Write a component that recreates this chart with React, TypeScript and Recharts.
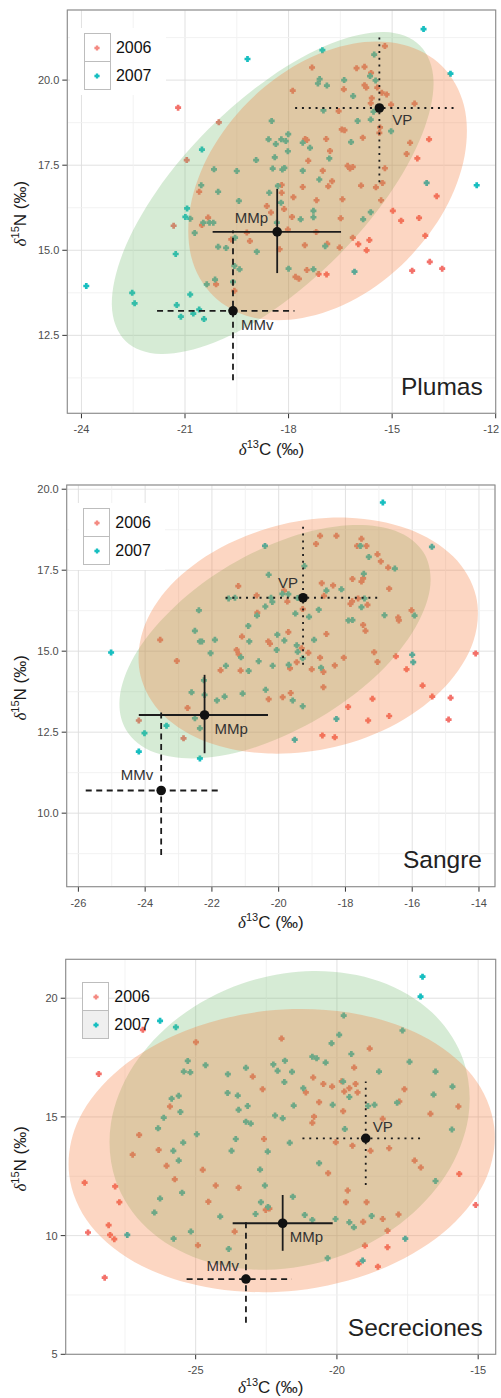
import React from "react";
import {
  ScatterChart,
  Scatter,
  XAxis,
  YAxis,
  CartesianGrid,
  ReferenceLine,
  ReferenceDot,
  ReferenceArea,
  Legend,
} from "recharts";

type Pt = [number, number];
type Stat = { name: string; x: number; y: number; xLo: number; xHi: number; yLo: number; yHi: number };

// ---------- Plumas ----------
const plumas2006: Pt[] = [
  [-21.2, 19.19], [-20.02, 18.76], [-20.95, 17.65], [-20.59, 16.72], [-20.33, 15.96], [-20.51, 15.74],
  [-21.33, 15.72], [-19.21, 15.52], [-19.12, 15.27], [-19.66, 15.32], [-19.57, 13.81], [-20.1, 14.0],
  [-18.63, 16.3], [-18.51, 16.11], [-18.2, 16.92], [-18.2, 16.69], [-18.13, 16.21], [-18.26, 15.03],
  [-18.02, 15.61], [-17.9, 15.98], [-17.86, 16.56], [-17.88, 19.69], [-17.32, 20.37], [-17.52, 18.27],
  [-17.47, 18.24], [-17.43, 17.63], [-17.59, 16.86], [-17.19, 16.47], [-17.01, 17.34], [-16.91, 18.27],
  [-16.8, 17.92], [-16.85, 16.88], [-16.74, 17.03], [-16.55, 19.09], [-16.46, 18.55], [-16.38, 18.53],
  [-16.4, 19.73], [-16.29, 17.48], [-16.22, 17.4], [-16.14, 17.45], [-16.44, 16.5], [-16.49, 15.94],
  [-15.9, 16.9], [-16.03, 20.35], [-15.8, 20.39], [-15.8, 19.85], [-15.75, 19.78], [-15.85, 18.31],
  [-15.61, 20.21], [-15.59, 19.47], [-15.21, 21.0], [-15.43, 19.78], [-15.3, 19.63], [-15.16, 19.58],
  [-15.03, 19.28], [-15.35, 18.61], [-15.37, 18.45], [-15.21, 17.41], [-15.28, 16.98], [-15.47, 16.85],
  [-15.32, 16.47], [-14.35, 19.31], [-14.48, 18.16], [-14.58, 17.83], [-14.27, 17.7], [-13.93, 18.26],
  [-14.98, 16.16], [-14.74, 15.87], [-14.22, 15.95], [-14.04, 15.43], [-13.71, 16.59], [-13.91, 14.66],
  [-13.55, 14.46], [-14.42, 14.4], [-16.14, 15.37], [-15.98, 15.18], [-15.74, 15.0], [-15.66, 15.3],
  [-16.52, 15.08], [-16.9, 14.29], [-17.13, 14.3], [-17.53, 15.15], [-17.47, 14.42], [-17.8, 14.22],
  [-17.7, 14.16], [-17.2, 15.54], [-16.88, 15.19], [-15.62, 19.32],
];
const plumas2007: Pt[] = [
  [-19.19, 20.62], [-23.86, 13.95], [-22.53, 13.75], [-22.46, 13.44], [-21.24, 13.39], [-21.12, 13.05],
  [-20.76, 13.14], [-20.59, 13.26], [-20.45, 12.98], [-20.85, 13.7], [-20.37, 14.0], [-21.27, 14.89],
  [-20.94, 16.23], [-20.99, 15.98], [-20.85, 15.93], [-20.51, 17.96], [-20.16, 17.38], [-20.04, 16.72],
  [-20.53, 16.91], [-20.72, 15.51], [-20.47, 15.81], [-20.29, 15.81], [-20.18, 15.81], [-20.04, 15.1],
  [-19.81, 15.07], [-20.13, 14.14], [-19.61, 14.07], [-19.57, 14.54], [-19.42, 14.44], [-19.55, 15.37],
  [-19.44, 16.45], [-19.5, 17.33], [-18.94, 17.65], [-18.92, 14.96], [-18.58, 18.26], [-18.49, 18.8],
  [-18.37, 18.12], [-18.4, 17.73], [-18.46, 17.4], [-18.21, 18.26], [-18.08, 18.21], [-18.01, 18.41],
  [-18.02, 17.91], [-18.18, 17.37], [-18.12, 17.42], [-18.31, 16.89], [-18.56, 16.69], [-18.22, 16.4],
  [-18.34, 15.81], [-18.0, 14.46], [-17.65, 15.91], [-17.59, 17.34], [-17.59, 18.16], [-17.38, 18.01],
  [-17.28, 16.16], [-17.28, 15.97], [-17.28, 14.44], [-16.94, 15.12], [-17.11, 17.08], [-16.82, 17.7],
  [-17.02, 20.88], [-17.1, 20.03], [-17.15, 19.9], [-16.89, 19.84], [-16.99, 19.11], [-16.39, 20.0],
  [-16.13, 19.53], [-16.0, 18.8], [-16.19, 18.18], [-15.84, 15.91], [-16.09, 14.37], [-15.62, 16.12],
  [-15.52, 20.75], [-15.64, 20.12], [-15.48, 19.99], [-15.62, 18.84], [-15.54, 19.07], [-15.03, 18.5],
  [-14.0, 16.98], [-13.31, 20.19], [-14.09, 21.5], [-12.55, 16.91],
];
const plumasEllipse2006: Pt[] = [
  [-13.55, 20.41], [-12.92, 19.26], [-12.9, 17.78], [-13.48, 16.18], [-14.58, 14.71], [-16.03, 13.59],
  [-17.6, 13.01], [-19.06, 13.03], [-20.19, 13.67], [-20.82, 14.81], [-20.84, 16.3], [-20.26, 17.9],
  [-19.17, 19.36], [-17.72, 20.48], [-16.14, 21.07], [-14.68, 21.04],
];
const plumasEllipse2007: Pt[] = [
  [-14.19, 21.01], [-13.8, 19.96], [-14.13, 18.41], [-15.11, 16.6], [-16.6, 14.8], [-18.38, 13.28],
  [-20.17, 12.28], [-21.7, 11.95], [-22.73, 12.34], [-23.12, 13.39], [-22.79, 14.95], [-21.81, 16.76],
  [-20.32, 18.56], [-18.54, 20.08], [-16.75, 21.08], [-15.22, 21.41],
];
const plumasStats: Stat[] = [
  { name: "VP", x: -15.37, y: 19.18, xLo: -17.81, xHi: -13.14, yLo: 17.0, yHi: 21.37 },
  { name: "MMp", x: -18.33, y: 15.54, xLo: -20.2, xHi: -16.48, yLo: 14.33, yHi: 16.8 },
  { name: "MMv", x: -19.61, y: 13.22, xLo: -21.81, xHi: -17.83, yLo: 11.18, yHi: 15.58 },
];
const plumasXTicks = [-24, -21, -18, -15, -12];
const plumasXMinor = [-22.5, -19.5, -16.5, -13.5];
const plumasYTicks = [12.5, 15, 17.5, 20];
const plumasYMinor = [11.25, 13.75, 16.25, 18.75, 21.25];

// ---------- Sangre ----------
const sangre2006: Pt[] = [
  [-23.55, 15.35], [-23.05, 14.7], [-24.19, 12.86], [-22.85, 12.31], [-22.73, 13.25], [-21.74, 14.41],
  [-21.21, 17.01], [-21.26, 15.04], [-21.2, 14.91], [-21.14, 14.4], [-21.1, 15.45], [-20.66, 16.72],
  [-20.64, 16.19], [-20.31, 15.3], [-20.26, 15.23], [-20.3, 13.52], [-19.88, 13.58], [-19.84, 16.87],
  [-19.74, 16.53], [-19.71, 15.59], [-19.64, 13.71], [-19.66, 14.47], [-19.46, 14.66], [-19.31, 15.09],
  [-19.28, 16.3], [-19.11, 14.95], [-19.01, 14.44], [-18.88, 18.31], [-18.76, 18.56], [-18.71, 17.1],
  [-18.57, 15.53], [-18.76, 14.8], [-18.66, 14.36], [-18.66, 13.89], [-18.64, 16.71], [-18.69, 12.4],
  [-18.37, 17.03], [-18.27, 18.56], [-18.32, 12.34], [-18.32, 14.56], [-18.05, 14.8], [-17.92, 13.28],
  [-17.85, 16.46], [-17.8, 16.54], [-17.79, 17.23], [-17.65, 18.25], [-17.62, 16.63], [-17.52, 18.47],
  [-17.52, 17.15], [-17.47, 17.25], [-17.47, 15.81], [-17.4, 15.63], [-17.37, 18.25], [-17.34, 16.43],
  [-17.32, 12.86], [-17.19, 13.53], [-17.14, 14.97], [-17.04, 14.67], [-17.04, 17.99], [-16.94, 17.77],
  [-16.72, 17.58], [-16.69, 16.93], [-16.69, 13.0], [-16.49, 14.84], [-16.42, 16.04], [-16.4, 15.95],
  [-16.17, 14.44], [-16.02, 16.26], [-15.69, 13.94], [-15.4, 13.6], [-14.91, 12.89], [-14.85, 13.56],
  [-14.1, 14.93],
];
const sangre2007: Pt[] = [
  [-25.02, 14.96], [-24.19, 11.9], [-24.02, 12.47], [-23.36, 12.7], [-22.61, 13.73], [-22.51, 15.63],
  [-22.39, 16.26], [-22.36, 15.3], [-22.3, 15.3], [-22.51, 12.93], [-22.36, 12.62], [-22.36, 11.69],
  [-22.24, 14.1], [-22.22, 13.65], [-22.04, 14.94], [-21.91, 15.35], [-21.85, 13.48], [-21.62, 13.6],
  [-21.58, 14.55], [-21.5, 16.63], [-21.31, 16.65], [-21.13, 14.81], [-21.08, 13.69], [-20.91, 15.78],
  [-20.88, 15.3], [-20.9, 14.39], [-20.6, 14.69], [-20.65, 16.1], [-20.4, 16.38], [-20.41, 18.25],
  [-20.3, 17.36], [-20.39, 13.81], [-20.23, 16.65], [-20.19, 16.52], [-20.18, 14.55], [-20.04, 15.51],
  [-20.06, 15.04], [-19.83, 15.33], [-19.89, 16.77], [-19.71, 16.76], [-19.7, 14.58], [-19.58, 13.48],
  [-19.52, 12.27], [-19.5, 16.16], [-19.46, 15.18], [-19.43, 14.98], [-19.43, 16.64], [-19.28, 13.3],
  [-19.28, 14.78], [-19.23, 17.63], [-19.09, 16.06], [-18.94, 15.35], [-18.8, 16.28], [-18.73, 14.49],
  [-18.57, 16.87], [-18.27, 12.91], [-18.12, 16.91], [-17.91, 15.95], [-17.79, 15.96], [-17.55, 18.25],
  [-17.45, 17.39], [-17.43, 16.63], [-17.52, 16.36], [-17.3, 17.91], [-16.88, 19.59], [-16.83, 16.11],
  [-16.52, 17.55], [-16.0, 14.89], [-15.97, 14.66], [-15.93, 16.1], [-15.41, 18.22],
];
const sangreEllipse2006: Pt[] = [
  [-14.09, 16.7], [-14.17, 15.3], [-15.0, 13.92], [-16.46, 12.77], [-18.33, 12.04], [-20.31, 11.84],
  [-22.11, 12.18], [-23.46, 13.03], [-24.14, 14.25], [-24.06, 15.66], [-23.23, 17.04], [-21.77, 18.18],
  [-19.9, 18.91], [-17.92, 19.12], [-16.12, 18.77], [-14.77, 17.92],
];
const sangreEllipse2007: Pt[] = [
  [-15.65, 18.03], [-15.47, 16.92], [-16.0, 15.57], [-17.15, 14.17], [-18.76, 12.95], [-20.57, 12.08],
  [-22.31, 11.7], [-23.71, 11.87], [-24.57, 12.57], [-24.75, 13.67], [-24.22, 15.03], [-23.07, 16.42],
  [-21.47, 17.65], [-19.66, 18.52], [-17.92, 18.89], [-16.51, 18.72],
];
const sangreStats: Stat[] = [
  { name: "VP", x: -19.27, y: 16.65, xLo: -21.59, xHi: -17.01, yLo: 14.58, yHi: 18.9 },
  { name: "MMp", x: -22.22, y: 13.03, xLo: -24.19, xHi: -20.32, yLo: 11.85, yHi: 14.27 },
  { name: "MMv", x: -23.52, y: 10.7, xLo: -25.78, xHi: -21.71, yLo: 8.71, yHi: 13.19 },
];
const sangreXTicks = [-26, -24, -22, -20, -18, -16, -14];
const sangreXMinor = [-25, -23, -21, -19, -17, -15];
const sangreYTicks = [10, 12.5, 15, 17.5, 20];
const sangreYMinor = [8.75, 11.25, 13.75, 16.25, 18.75];

// ---------- Secreciones ----------
const secre2006: Pt[] = [
  [-28.93, 12.23], [-28.81, 10.13], [-28.43, 16.81], [-28.22, 8.23], [-28.08, 10.44], [-28.03, 10.03],
  [-27.88, 9.85], [-27.85, 12.07], [-27.7, 11.41], [-27.23, 13.41], [-27.0, 14.24], [-26.87, 18.67],
  [-26.31, 13.61], [-26.03, 12.94], [-25.91, 15.44], [-25.74, 12.37], [-24.99, 18.15], [-24.92, 9.59],
  [-24.75, 12.77], [-24.55, 11.43], [-24.29, 12.11], [-23.62, 10.17], [-23.48, 12.02], [-22.98, 16.7],
  [-22.63, 16.17], [-22.58, 14.07], [-22.52, 11.08], [-22.39, 11.14], [-21.96, 18.3], [-20.84, 16.66],
  [-20.81, 15.01], [-20.87, 14.75], [-21.1, 16.03], [-20.63, 15.62], [-20.48, 16.39], [-20.31, 12.63],
  [-20.17, 16.28], [-20.04, 13.93], [-19.83, 16.5], [-19.78, 15.24], [-19.74, 16.07], [-19.68, 11.41],
  [-19.62, 11.9], [-19.56, 16.21], [-19.45, 13.79], [-19.39, 17.08], [-19.34, 16.39], [-19.27, 16.03],
  [-19.23, 8.81], [-19.07, 10.58], [-19.01, 9.58], [-18.95, 11.41], [-18.81, 13.57], [-18.84, 17.88],
  [-18.55, 8.69], [-18.38, 14.92], [-18.38, 10.7], [-18.21, 10.21], [-18.21, 9.51], [-18.15, 13.68],
  [-17.79, 15.65], [-17.82, 10.89], [-17.61, 16.17], [-17.25, 13.16], [-17.03, 12.87], [-16.69, 15.13],
  [-15.67, 12.6], [-15.7, 15.44], [-15.09, 11.29],
];
const secre2007: Pt[] = [
  [-27.42, 10.03], [-26.46, 10.97], [-26.33, 14.52], [-26.26, 11.56], [-26.26, 19.05], [-26.13, 14.97],
  [-25.85, 15.77], [-25.79, 13.57], [-25.78, 9.87], [-25.7, 18.78], [-25.6, 15.89], [-25.6, 13.16],
  [-25.54, 15.21], [-25.48, 11.81], [-25.44, 13.92], [-25.42, 16.91], [-25.28, 17.36], [-25.19, 16.88],
  [-25.17, 10.17], [-24.96, 14.27], [-24.65, 17.18], [-24.13, 10.8], [-23.87, 16.01], [-23.86, 16.8],
  [-23.83, 9.44], [-23.73, 13.57], [-23.58, 14.07], [-23.51, 15.9], [-23.48, 15.3], [-23.22, 17.07],
  [-23.22, 14.8], [-23.16, 15.46], [-23.05, 14.72], [-22.88, 10.91], [-22.72, 12.78], [-22.69, 11.41],
  [-22.55, 12.11], [-22.45, 13.54], [-22.44, 11.21], [-22.25, 17.21], [-22.19, 15.06], [-22.1, 16.94],
  [-21.92, 14.94], [-21.86, 16.47], [-21.84, 17.37], [-21.67, 13.91], [-21.59, 16.9], [-21.56, 11.64],
  [-21.53, 15.48], [-21.19, 16.21], [-21.14, 10.87], [-20.87, 17.54], [-20.72, 17.47], [-20.87, 10.66],
  [-20.63, 13.05], [-20.4, 17.29], [-20.33, 9.05], [-20.19, 18.1], [-20.15, 15.51], [-20.05, 10.7],
  [-19.92, 18.46], [-19.78, 16.49], [-19.76, 19.27], [-19.72, 14.49], [-19.56, 15.84], [-19.49, 17.65],
  [-19.56, 10.56], [-19.4, 10.35], [-19.09, 8.95], [-18.9, 15.46], [-18.77, 10.83], [-18.67, 15.51],
  [-18.51, 16.91], [-17.87, 15.6], [-17.68, 18.64], [-17.58, 9.87], [-17.43, 17.32], [-17.04, 20.07],
  [-16.97, 20.91], [-16.58, 15.94], [-16.51, 16.91], [-16.51, 12.3], [-15.93, 14.47], [-15.91, 16.28],
];
const secreEllipse2006: Pt[] = [
  [-14.43, 14.56], [-14.79, 12.23], [-16.25, 10.11], [-18.57, 8.52], [-21.42, 7.69], [-24.34, 7.77],
  [-26.9, 8.72], [-28.71, 10.42], [-29.48, 12.6], [-29.12, 14.93], [-27.66, 17.05], [-25.34, 18.64],
  [-22.5, 19.47], [-19.58, 19.4], [-17.02, 18.44], [-15.21, 16.75],
];
const secreEllipse2007: Pt[] = [
  [-15.52, 17.38], [-15.35, 14.98], [-16.14, 12.56], [-17.77, 10.49], [-20.0, 9.09], [-22.49, 8.56],
  [-24.84, 8.99], [-26.72, 10.31], [-27.83, 12.32], [-28.0, 14.72], [-27.21, 17.14], [-25.58, 19.21],
  [-23.35, 20.62], [-20.86, 21.15], [-18.5, 20.72], [-16.63, 19.4],
];
const secreStats: Stat[] = [
  { name: "VP", x: -18.98, y: 14.1, xLo: -21.22, xHi: -16.89, yLo: 12.13, yHi: 16.49 },
  { name: "MMp", x: -21.92, y: 10.52, xLo: -23.69, xHi: -20.15, yLo: 9.36, yHi: 11.71 },
  { name: "MMv", x: -23.22, y: 8.17, xLo: -25.32, xHi: -21.6, yLo: 6.33, yHi: 10.63 },
];
const secreXTicks = [-25, -20, -15];
const secreXMinor = [-27.5, -22.5, -17.5];
const secreYTicks = [5, 10, 15, 20];
const secreYMinor = [7.5, 12.5, 17.5];

const years = ["2006", "2007"];

const RED = "#F3716A";
const TEAL = "#17BEC0";
const RED_FILL = "#F57634";
const GREEN_FILL = "#76BC73";
const INK = "#1C1C1C";
const FONT = "'Liberation Sans', Arial, Helvetica, sans-serif";
const CHART_W = 501;

const DASH: Record<string, string | undefined> = { VP: "2 4.8", MMp: undefined, MMv: "6 4.5" };

type LabelPos = { dx: number; dy: number; anchor: "start" | "end" };

type PanelCfg = {
  title: string;
  height: number;
  margin: { top: number; right: number; bottom: number; left: number };
  yWidth: number;
  titleGap: number;
  xDomain: [number, number];
  yDomain: [number, number];
  xTicks: number[];
  xMinor: number[];
  yTicks: number[];
  yMinor: number[];
  yFmt: (v: number) => string;
  d2006: Pt[];
  d2007: Pt[];
  e2006: Pt[];
  e2007: Pt[];
  stats: Stat[];
  labels: Record<string, LabelPos>;
  shade: boolean;
  legendBg: string;
};

const panels: PanelCfg[] = [
  {
    title: "Plumas",
    height: 470,
    margin: { top: 10, right: 5.3, bottom: 26.7, left: 0 },
    yWidth: 67.3,
    titleGap: 41.7,
    xDomain: [-24.41, -12],
    yDomain: [10.21, 22.06],
    xTicks: plumasXTicks,
    xMinor: plumasXMinor,
    yTicks: plumasYTicks,
    yMinor: plumasYMinor,
    yFmt: (v) => v.toFixed(1),
    d2006: plumas2006,
    d2007: plumas2007,
    e2006: plumasEllipse2006,
    e2007: plumasEllipse2007,
    stats: plumasStats,
    labels: {
      VP: { dx: 13, dy: 11, anchor: "start" },
      MMp: { dx: -9, dy: -14, anchor: "end" },
      MMv: { dx: 8, dy: 14, anchor: "start" },
    },
    shade: false,
    legendBg: "#fff",
  },
  {
    title: "Sangre",
    height: 465,
    margin: { top: 15, right: 6, bottom: 18.3, left: 0 },
    yWidth: 66.7,
    titleGap: 41.3,
    xDomain: [-26.35, -13.52],
    yDomain: [7.73, 20.13],
    xTicks: sangreXTicks,
    xMinor: sangreXMinor,
    yTicks: sangreYTicks,
    yMinor: sangreYMinor,
    yFmt: (v) => v.toFixed(1),
    d2006: sangre2006,
    d2007: sangre2007,
    e2006: sangreEllipse2006,
    e2007: sangreEllipse2007,
    stats: sangreStats,
    labels: {
      VP: { dx: -5, dy: -15, anchor: "end" },
      MMp: { dx: 10, dy: 13, anchor: "start" },
      MMv: { dx: -8, dy: -16, anchor: "end" },
    },
    shade: false,
    legendBg: "#fff",
  },
  {
    title: "Secreciones",
    height: 463,
    margin: { top: 24.3, right: 5.3, bottom: 13.7, left: 0 },
    yWidth: 65.7,
    titleGap: 38.7,
    xDomain: [-29.6, -14.38],
    yDomain: [5, 21.64],
    xTicks: secreXTicks,
    xMinor: secreXMinor,
    yTicks: secreYTicks,
    yMinor: secreYMinor,
    yFmt: (v) => String(v),
    d2006: secre2006,
    d2007: secre2007,
    e2006: secreEllipse2006,
    e2007: secreEllipse2007,
    stats: secreStats,
    labels: {
      VP: { dx: 7, dy: -12, anchor: "start" },
      MMp: { dx: 7, dy: 13, anchor: "start" },
      MMv: { dx: -7, dy: -14, anchor: "end" },
    },
    shade: true,
    legendBg: "transparent",
  },
];

const toXY = (a: Pt[]) => a.map(([x, y]) => ({ x, y }));

// little "+" shaped point
const plusPath = (s: number) => {
  const t = s * 0.45;
  return `M${-t},${-s}H${t}V${-t}H${s}V${t}H${t}V${s}H${-t}V${t}H${-s}V${-t}H${-t}Z`;
};

const Marker = (p: any) =>
  p.cx == null ? <g /> : <path d={plusPath(3)} transform={`translate(${p.cx},${p.cy})`} fill={p.fill} />;

const Nothing = () => <g />;

// smooth closed outline through the pixel points (Catmull-Rom)
function closedPath(pts: { x: number; y: number }[]) {
  const n = pts.length;
  if (!n) return "";
  let d = `M${pts[0].x},${pts[0].y}`;
  for (let i = 0; i < n; i++) {
    const p0 = pts[(i - 1 + n) % n];
    const p1 = pts[i];
    const p2 = pts[(i + 1) % n];
    const p3 = pts[(i + 2) % n];
    const c1x = p1.x + (p2.x - p0.x) / 6;
    const c1y = p1.y + (p2.y - p0.y) / 6;
    const c2x = p2.x - (p3.x - p1.x) / 6;
    const c2y = p2.y - (p3.y - p1.y) / 6;
    d += `C${c1x},${c1y} ${c2x},${c2y} ${p2.x},${p2.y}`;
  }
  return d + "Z";
}

const ellipseLine = (color: string) => (props: any) =>
  <path d={closedPath(props.points || [])} fill={color} fillOpacity={0.3} stroke="none" />;

const tickStyle = { fill: "#4D4D4D", fontSize: 11, fontFamily: FONT };

// x tick that keeps the last label inside the picture
const XTick = (t: any) => {
  const label = String(t.payload.value);
  const half = label.length * 3.1;
  const x = Math.min(t.x, CHART_W - half - 0.5);
  return (
    <text x={x} y={t.y} dy="0.71em" textAnchor="middle" {...tickStyle}>
      {label}
    </text>
  );
};

function LegendBox({ shade, bg }: { shade: boolean; bg: string }) {
  return (
    <div style={{ background: bg, padding: "5px 0 5px 14px", fontFamily: FONT, width: 96, boxSizing: "border-box" }}>
      {years.map((yr, i) => (
        <div key={yr} style={{ display: "flex", alignItems: "center", marginTop: i ? -1 : 0 }}>
          <div
            style={{
              width: 27,
              height: 29,
              boxSizing: "border-box",
              border: "1px solid #BDBDBD",
              background: i === 1 && shade ? "#EFEFEF" : "#fff",
              display: "flex",
              alignItems: "center",
              justifyContent: "center",
            }}
          >
            <svg width={8} height={8}>
              <path d={plusPath(2.6)} transform="translate(4,4)" fill={i === 0 ? "#F48A82" : TEAL} />
            </svg>
          </div>
          <span style={{ fontSize: 16, marginLeft: 5, color: "#111", lineHeight: "16px" }}>{yr}</span>
        </div>
      ))}
    </div>
  );
}

function Panel({ p }: { p: PanelCfg }) {
  const plotLeft = p.margin.left + p.yWidth;

  const Frame = (a: any) => {
    const cx = 20;
    const cy = a.y + a.height / 2 + 2;
    return (
      <g>
        <rect x={a.x} y={a.y} width={a.width} height={a.height} fill="none" stroke="#8C8C8C" strokeWidth={1.1} />
        <text
          x={a.x + a.width - 13}
          y={a.y + a.height - 18.5}
          textAnchor="end"
          fontSize={24.5}
          fill="#222"
          fontFamily={FONT}
        >
          {p.title}
        </text>
        <text
          x={a.x + a.width / 2 - 10}
          y={a.y + a.height + p.titleGap}
          textAnchor="middle"
          fontSize={17}
          fill={INK}
          fontFamily={FONT}
        >
          <tspan fontStyle="italic" fontFamily="'Liberation Serif', 'DejaVu Serif', serif">δ</tspan>
          <tspan fontSize={11} dy={-7}>13</tspan>
          <tspan dy={7}>C (‰)</tspan>
        </text>
        <text
          x={cx}
          y={cy + 6}
          transform={`rotate(-90, ${cx}, ${cy})`}
          textAnchor="middle"
          fontSize={17}
          fill={INK}
          fontFamily={FONT}
        >
          <tspan fontStyle="italic" fontFamily="'Liberation Serif', 'DejaVu Serif', serif">δ</tspan>
          <tspan fontSize={11} dy={-7}>15</tspan>
          <tspan dy={7}>N (‰)</tspan>
        </text>
      </g>
    );
  };

  const RefMark = (s: Stat) => (d: any) => {
    if (d.cx == null) return <g />;
    const pos = p.labels[s.name];
    return (
      <g>
        <circle cx={d.cx} cy={d.cy} r={4.8} fill="#111" />
        <text
          x={d.cx + pos.dx}
          y={d.cy + pos.dy}
          textAnchor={pos.anchor}
          dominantBaseline="central"
          fontSize={15}
          fill="#333"
          fontFamily={FONT}
        >
          {s.name}
        </text>
      </g>
    );
  };

  return (
    <div style={{ position: "relative", width: CHART_W, height: p.height }}>
      <ScatterChart width={CHART_W} height={p.height} margin={p.margin}>
        <CartesianGrid stroke="#DEDEDE" strokeWidth={0.9} />
        {p.xMinor.map((v) => (
          <ReferenceLine key={`xm${v}`} x={v} stroke="#F1F1F1" strokeWidth={0.9} zIndex={-90} />
        ))}
        {p.yMinor.map((v) => (
          <ReferenceLine key={`ym${v}`} y={v} stroke="#F1F1F1" strokeWidth={0.9} zIndex={-90} />
        ))}
        <XAxis
          type="number"
          dataKey="x"
          domain={p.xDomain}
          ticks={p.xTicks}
          interval={0}
          allowDataOverflow
          axisLine={false}
          tickLine={{ stroke: "#333" }}
          tickSize={5}
          tickMargin={7}
          tick={XTick}
          height={30}
        />
        <YAxis
          type="number"
          dataKey="y"
          domain={p.yDomain}
          ticks={p.yTicks}
          interval={0}
          allowDataOverflow
          axisLine={false}
          tickLine={{ stroke: "#333" }}
          tickSize={5}
          tickMargin={3}
          tick={tickStyle}
          tickFormatter={p.yFmt}
          width={p.yWidth}
        />
        <Scatter name="2006" data={toXY(p.d2006)} fill={RED} shape={Marker} isAnimationActive={false} />
        <Scatter name="2007" data={toXY(p.d2007)} fill={TEAL} shape={Marker} isAnimationActive={false} />
        <Scatter
          data={toXY(p.e2007)}
          fill={GREEN_FILL}
          shape={Nothing}
          line={ellipseLine(GREEN_FILL)}
          lineType="joint"
          legendType="none"
          isAnimationActive={false}
        />
        <Scatter
          data={toXY(p.e2006)}
          fill={RED_FILL}
          shape={Nothing}
          line={ellipseLine(RED_FILL)}
          lineType="joint"
          legendType="none"
          isAnimationActive={false}
        />
        {p.stats.map((s) => (
          <ReferenceLine
            key={`h${s.name}`}
            segment={[{ x: s.xLo, y: s.y }, { x: s.xHi, y: s.y }]}
            stroke={INK}
            strokeWidth={1.8}
            strokeDasharray={DASH[s.name]}
            zIndex={700}
          />
        ))}
        {p.stats.map((s) => (
          <ReferenceLine
            key={`v${s.name}`}
            segment={[{ x: s.x, y: s.yLo }, { x: s.x, y: s.yHi }]}
            stroke={INK}
            strokeWidth={1.8}
            strokeDasharray={DASH[s.name]}
            zIndex={700}
          />
        ))}
        {p.stats.map((s) => (
          <ReferenceDot key={`d${s.name}`} x={s.x} y={s.y} r={4.8} shape={RefMark(s)} zIndex={710} />
        ))}
        <ReferenceArea
          x1={p.xDomain[0]}
          x2={p.xDomain[1]}
          y1={p.yDomain[0]}
          y2={p.yDomain[1]}
          ifOverflow="visible"
          shape={Frame}
          zIndex={1000}
        />
        <Legend
          layout="horizontal"
          verticalAlign="middle"
          align="center"
          content={() => <LegendBox shade={p.shade} bg={p.legendBg} />}
          wrapperStyle={{ left: plotLeft + 2.6, top: p.margin.top + 18, width: 96, height: 66 }}
        />
      </ScatterChart>
    </div>
  );
}

export default function App() {
  return (
    <div style={{ position: "absolute", left: 0, top: 0, width: CHART_W, height: 1398, background: "#fff" }}>
      {panels.map((p) => (
        <Panel key={p.title} p={p} />
      ))}
    </div>
  );
}
